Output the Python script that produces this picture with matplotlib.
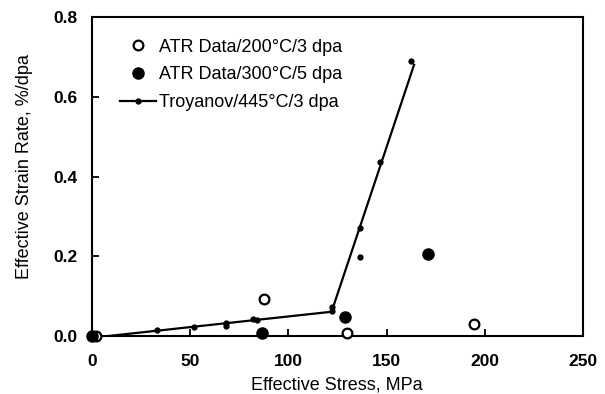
import numpy as np
import matplotlib.pyplot as plt

plt.rcParams['font.family'] = ['Liberation Sans', 'DejaVu Sans']

# ATR data, 200C / 3 dpa (open circles)
atr200_stress = [2, 87.7, 129.7, 194.7]
atr200_rate = [0.0, 0.094, 0.007, 0.030]

# ATR data, 300C / 5 dpa (filled circles)
atr300_stress = [0, 86.4, 128.8, 170.9]
atr300_rate = [0.0, 0.007, 0.048, 0.205]

# Troyanov 445C / 3 dpa points and bilinear fit
troy_stress = [33, 52, 68, 68, 82, 84, 122, 122, 136.5, 136.5, 146.6, 162.3]
troy_rate = [0.015, 0.022, 0.033, 0.026, 0.043, 0.040, 0.073, 0.063, 0.270, 0.199, 0.437, 0.690]
fit_stress = [8, 122, 164]
fit_rate = [0.0, 0.061, 0.680]

fig = plt.figure(figsize=(6.05, 3.94), dpi=100)
ax = fig.add_axes([0.152, 0.147, 0.8116, 0.81])

ax.plot(atr200_stress, atr200_rate, 'o', mfc='white', mec='black', mew=1.6, ms=7,
        label='ATR Data/200°C/3 dpa', zorder=3, clip_on=False)
ax.plot(atr300_stress, atr300_rate, 'o', mfc='black', mec='black', ms=8,
        label='ATR Data/300°C/5 dpa', zorder=3, clip_on=False)
ax.plot(troy_stress, troy_rate, 'o', color='black', ms=3.5, zorder=3)
ax.plot(fit_stress, fit_rate, '-', color='black', lw=1.6)
# legend handle for the Troyanov series: line with a dot
ax.plot([], [], '-o', color='black', lw=1.6, ms=3.5, label='Troyanov/445°C/3 dpa')

ax.set_xlim(0, 250)
ax.set_ylim(0, 0.8)
ax.set_xticks([0, 50, 100, 150, 200, 250])
ax.set_yticks([0.0, 0.2, 0.4, 0.6, 0.8])
ax.set_yticklabels(['0.0', '0.2', '0.4', '0.6', '0.8'])
ax.tick_params(direction='in', length=5, width=1.3, labelsize=12.5)
ax.tick_params(axis='x', pad=13)
ax.tick_params(axis='y', pad=10.5)
for lab in ax.get_xticklabels() + ax.get_yticklabels():
    lab.set_fontweight('bold')
for sp in ax.spines.values():
    sp.set_linewidth(1.5)

fig.text(337 / 605, 1 - 385 / 394, 'Effective Stress, MPa', fontsize=13,
         ha='center', va='center')
fig.text(25 / 605, 1 - 167 / 394, 'Effective Strain Rate, %/dpa', fontsize=13,
         rotation=90, ha='center', va='center')

ax.legend(loc='upper left', bbox_to_anchor=(0.043, 0.955), frameon=False, fontsize=13,
          handlelength=2.0, labelspacing=0.6, handletextpad=0.15, borderaxespad=0)

fig.savefig('out.png', dpi=100)
